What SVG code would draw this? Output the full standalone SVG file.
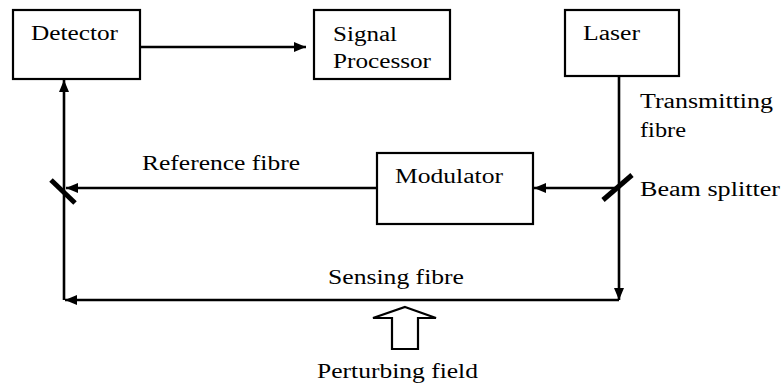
<svg xmlns="http://www.w3.org/2000/svg" width="783" height="385" viewBox="0 0 783 385">
<style>
  .box { fill: #fff; stroke: #000; stroke-width: 2.2; }
  .wire { fill: none; stroke: #000; stroke-width: 2.6; }
  .split { stroke: #000; stroke-width: 5; }
  text { font-family: "Liberation Serif", "DejaVu Serif", serif; font-size: 20px; fill: #000; }
</style>
<defs>
  <marker id="ah" viewBox="0 0 12 10" refX="12" refY="5" markerWidth="12" markerHeight="10" markerUnits="userSpaceOnUse" orient="auto">
    <path d="M0,0 L12,5 L0,10 Z" fill="#000"/>
  </marker>
</defs>
<rect width="783" height="385" fill="#fff"/>

<g id="connectors">
  <line class="wire" x1="140" y1="47" x2="306" y2="47" marker-end="url(#ah)"/>
  <line class="wire" x1="64" y1="300" x2="64" y2="80" marker-end="url(#ah)"/>
  <line class="wire" x1="619" y1="76" x2="619" y2="300" marker-end="url(#ah)"/>
  <line class="wire" x1="619" y1="300" x2="65" y2="300" marker-end="url(#ah)"/>
  <line class="wire" x1="619" y1="188" x2="534" y2="188" marker-end="url(#ah)"/>
  <line class="wire" x1="377" y1="188" x2="66" y2="188" marker-end="url(#ah)"/>
  <text x="142" y="170" textLength="158" lengthAdjust="spacingAndGlyphs">Reference fibre</text>
  <text x="328" y="284" textLength="136" lengthAdjust="spacingAndGlyphs">Sensing fibre</text>
  <text x="640" y="108" textLength="133" lengthAdjust="spacingAndGlyphs">Transmitting</text>
  <text x="640" y="137" textLength="46" lengthAdjust="spacingAndGlyphs">fibre</text>
</g>

<g id="detector">
  <rect class="box" x="13" y="10" width="127" height="69"/>
  <text x="31" y="40" textLength="87" lengthAdjust="spacingAndGlyphs">Detector</text>
</g>

<g id="signal-processor">
  <rect class="box" x="314" y="10" width="136" height="69"/>
  <text x="333" y="41" textLength="64" lengthAdjust="spacingAndGlyphs">Signal</text>
  <text x="333" y="68" textLength="98" lengthAdjust="spacingAndGlyphs">Processor</text>
</g>

<g id="laser">
  <rect class="box" x="565" y="10" width="114" height="66"/>
  <text x="583" y="40" textLength="57" lengthAdjust="spacingAndGlyphs">Laser</text>
</g>

<g id="modulator">
  <rect class="box" x="377" y="153" width="156" height="71"/>
  <text x="395" y="183" textLength="108" lengthAdjust="spacingAndGlyphs">Modulator</text>
</g>

<g id="beam-splitter">
  <line class="split" x1="603" y1="200" x2="632" y2="175"/>
  <text x="640" y="196" textLength="140" lengthAdjust="spacingAndGlyphs">Beam splitter</text>
</g>

<g id="combiner">
  <line class="split" x1="51" y1="180" x2="75" y2="203"/>
</g>

<g id="perturbing-field">
  <path d="M405,307 L436,318 L418,318 L418,349 L392,349 L392,318 L373,318 Z" fill="#fff" stroke="#000" stroke-width="2.2" stroke-linejoin="miter"/>
  <text x="317" y="378" textLength="161" lengthAdjust="spacingAndGlyphs">Perturbing field</text>
</g>
</svg>
